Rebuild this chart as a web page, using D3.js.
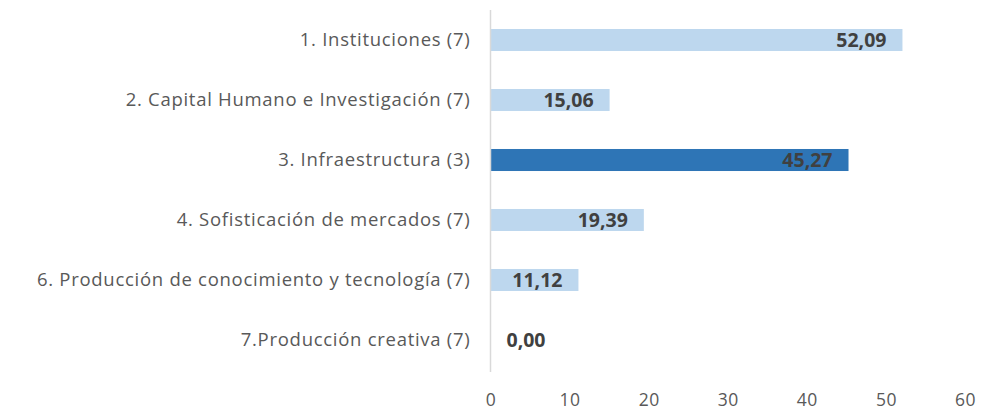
<!DOCTYPE html>
<html>
<head>
<meta charset="utf-8">
<script src="https://cdn.jsdelivr.net/npm/d3@7"></script>
<style>
  body { margin: 0; background: #fff; }
  .axisText { font-family: "Open Sans", sans-serif; fill: #595959; }
</style>
</head>
<body>
<div class="chart"></div>
<script>
var categories = [
  "1. Instituciones (7)",
  "2. Capital Humano e Investigación (7)",
  "3. Infraestructura (3)",
  "4. Sofisticación de mercados (7)",
  "6. Producción de conocimiento y tecnología (7)",
  "7.Producción creativa (7)"
];
var values = [52.09, 15.06, 45.27, 19.39, 11.12, 0.00];
var highlighted = ["3. Infraestructura (3)"];
var xTicks = [0, 10, 20, 30, 40, 50, 60];

var svgWidth = 990;
var svgHeight = 418;

var svg = d3.select(".chart")
  .append("svg")
  .attr("width", svgWidth)
  .attr("height", svgHeight);

var data = categories.map((c, i) => ({ name: c, value: values[i] }));

// scales
var xScale = d3.scaleLinear()
  .domain([0, 60])
  .range([490.5, 965]);

var yScale = d3.scaleBand()
  .domain(categories)
  .range([10, 370])
  .paddingInner(0.633)
  .paddingOuter(0.3167);

// bars
svg.selectAll("rect.bar")
  .data(data)
  .enter()
  .append("rect")
  .attr("class", "bar")
  .attr("x", xScale(0))
  .attr("y", d => yScale(d.name))
  .attr("width", d => xScale(d.value) - xScale(0))
  .attr("height", yScale.bandwidth())
  .attr("fill", d => highlighted.includes(d.name) ? "#2E75B6" : "#BDD7EE");

// left axis with category labels
var leftAxis = d3.axisLeft(yScale).tickSize(0).tickPadding(20);
var gy = svg.append("g")
  .attr("transform", `translate(${xScale(0)},0)`)
  .call(leftAxis);
gy.select(".domain")
  .attr("stroke", "#D9D9D9")
  .attr("stroke-width", 1.5)
  .attr("d", "M0,10V372");
gy.selectAll("text")
  .attr("class", "axisText")
  .style("font-size", "18.5px")
  .style("letter-spacing", "0.72px")
  .attr("dy", "0.35em");

// bottom axis
var bottomAxis = d3.axisBottom(xScale).tickValues(xTicks).tickSize(0).tickPadding(0);
var gx = svg.append("g")
  .attr("transform", "translate(0,394)")
  .call(bottomAxis);
gx.select(".domain").remove();
gx.selectAll("text")
  .attr("class", "axisText")
  .style("font-size", "17.5px")
  .style("letter-spacing", "0.5px");

// data labels
var labels = svg.selectAll("text.val")
  .data(data)
  .enter()
  .append("text")
  .attr("class", "val")
  .attr("y", d => yScale(d.name) + yScale.bandwidth() / 2)
  .attr("dy", "0.36em")
  .style("font-family", "'Open Sans', sans-serif")
  .style("font-weight", "bold")
  .style("font-size", "19.5px")
  .attr("fill", "#404040")
  .text(d => d3.format(".2f")(d.value).replace(".", ","));

labels.each(function (d) {
  var w = this.getComputedTextLength();
  var right = Math.max(xScale(d.value) - 16, xScale(0) + 16 + w);
  d3.select(this).attr("x", right).attr("text-anchor", "end");
});
</script>
</body>
</html>
